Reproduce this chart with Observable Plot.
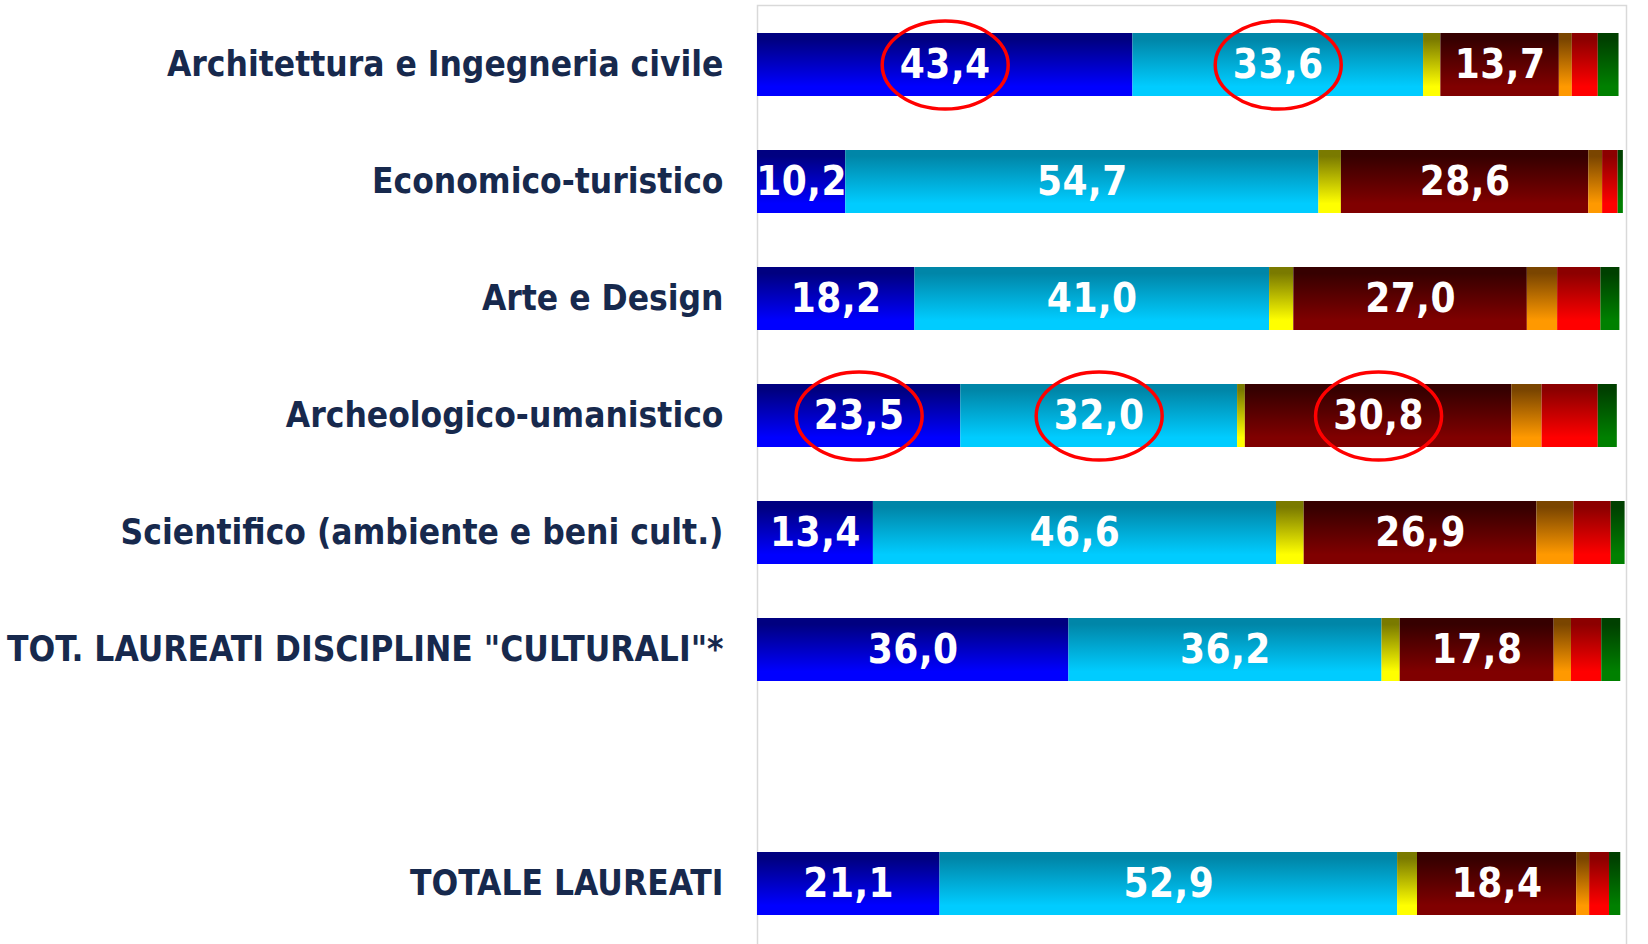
<!DOCTYPE html>
<html>
<head>
<meta charset="utf-8">
<script src="https://cdn.jsdelivr.net/npm/d3@7"></script>
<script src="https://cdn.jsdelivr.net/npm/@observablehq/plot@0.6"></script>
<style>
  html, body { margin: 0; padding: 0; background: #ffffff; }
  #chart svg { display: block; }
  .seglabel text { letter-spacing: 0.5px; }
</style>
</head>
<body>
<div id="chart"></div>
<script>
// Categories (top to bottom); "" is the empty row before the grand total
const categories = [
  "Architettura e Ingegneria civile",
  "Economico-turistico",
  "Arte e Design",
  "Archeologico-umanistico",
  "Scientifico (ambiente e beni cult.)",
  "TOT. LAUREATI DISCIPLINE \"CULTURALI\"*",
  "",
  "TOTALE LAUREATI"
];
const barCategories = categories.filter(c => c !== "");

// Series (left to right), values in %
const seriesNames = ["blu", "azzurro", "giallo", "bordeaux", "arancio", "rosso", "verde"];
const blu      = [43.4, 10.2, 18.2, 23.5, 13.4, 36.0, 21.1];
const azzurro  = [33.6, 54.7, 41.0, 32.0, 46.6, 36.2, 52.9];
const giallo   = [2.0, 2.6, 2.8, 0.9, 3.2, 2.1, 2.3];
const bordeaux = [13.7, 28.6, 27.0, 30.8, 26.9, 17.8, 18.4];
const arancio  = [1.5, 1.6, 3.5, 3.5, 4.3, 2.0, 1.5];
const rosso    = [3.0, 1.8, 5.0, 6.5, 4.3, 3.5, 2.3];
const verde    = [2.4, 0.6, 2.2, 2.2, 1.6, 2.2, 1.3];
const seriesValues = [blu, azzurro, giallo, bordeaux, arancio, rosso, verde];

// Which series carry a value label, and which labels are circled
const labeledSeries = ["blu", "azzurro", "bordeaux"];
const circled = [
  ["Architettura e Ingegneria civile", "blu"],
  ["Architettura e Ingegneria civile", "azzurro"],
  ["Archeologico-umanistico", "blu"],
  ["Archeologico-umanistico", "azzurro"],
  ["Archeologico-umanistico", "bordeaux"]
];

// Gradient colours per series: [top, bottom]
const gradTop    = ["#000080", "#0086a8", "#7a7a00", "#360000", "#7a4500", "#8c0000", "#004000"];
const gradBottom = ["#0000ff", "#00ccff", "#ffff00", "#800000", "#ff9900", "#ff0000", "#008000"];

const data = [];
barCategories.forEach((cat, i) => {
  seriesNames.forEach((s, j) => {
    data.push({cat, series: s, value: seriesValues[j][i]});
  });
});

const isCircled = d => circled.some(([c, s]) => c === d.cat && s === d.series);
const fmt = v => d3.format(".1f")(v).replace(".", ",");

// Ellipse symbol (custom d3-symbol-like object)
const ellipse = {
  draw(ctx) {
    const rx = 63, ry = 44, k = 0.5523;
    ctx.moveTo(rx, 0);
    ctx.bezierCurveTo(rx, ry * k, rx * k, ry, 0, ry);
    ctx.bezierCurveTo(-rx * k, ry, -rx, ry * k, -rx, 0);
    ctx.bezierCurveTo(-rx, -ry * k, -rx * k, -ry, 0, -ry);
    ctx.bezierCurveTo(rx * k, -ry, rx, -ry * k, rx, 0);
    ctx.closePath();
  }
};

const font = "'DejaVu Sans Condensed', 'DejaVu Sans', sans-serif";

const chart = Plot.plot({
  width: 1648,
  height: 944,
  marginLeft: 757,
  marginRight: 26,
  marginTop: 5,
  marginBottom: 0,
  style: {fontFamily: font, background: "#ffffff"},
  x: {domain: [0, 100], axis: null},
  y: {domain: categories, paddingInner: 0.46, paddingOuter: 0.23, axis: null},
  color: {domain: seriesNames, range: seriesNames.map((s, i) => `url(#grad${i})`)},
  r: {domain: [0, 1], range: [0, 10]},
  marks: [
    Plot.frame({stroke: "#d9d9d9", strokeWidth: 1.5, insetRight: -4, insetBottom: -20}),
    Plot.barX(data, Plot.stackX({x: "value", y: "cat", z: "series", fill: "series", order: null})),
    Plot.text(data, Plot.stackX({
      x: "value", y: "cat", z: "series", order: null,
      text: d => labeledSeries.includes(d.series) ? fmt(d.value) : null,
      fill: "white", fontSize: 40, fontWeight: "bold", fontFamily: font,
      className: "seglabel"
    })),
    Plot.dot(data, Plot.stackX({
      x: "value", y: "cat", z: "series", order: null,
      r: d => isCircled(d) ? 1 : 0,
      symbol: ellipse, stroke: "#ff0000", strokeWidth: 3.5, fill: "none"
    })),
    Plot.axisY({
      tickSize: 0, tickPadding: 34, label: null,
      fontSize: 35, fontWeight: "bold", fill: "#17294d", fontFamily: font,
      tickFormat: d => d
    })
  ]
});

// Vertical gradients for the bar segments
const defs = d3.select(chart).insert("defs", ":first-child");
seriesNames.forEach((s, i) => {
  const g = defs.append("linearGradient")
    .attr("id", `grad${i}`).attr("x1", 0).attr("y1", 0).attr("x2", 0).attr("y2", 1);
  g.append("stop").attr("offset", "0%").attr("stop-color", gradTop[i]);
  g.append("stop").attr("offset", "10%").attr("stop-color", gradTop[i]);
  g.append("stop").attr("offset", "85%").attr("stop-color", gradBottom[i]);
  g.append("stop").attr("offset", "100%").attr("stop-color", gradBottom[i]);
});

document.getElementById("chart").appendChild(chart);
</script>
</body>
</html>
